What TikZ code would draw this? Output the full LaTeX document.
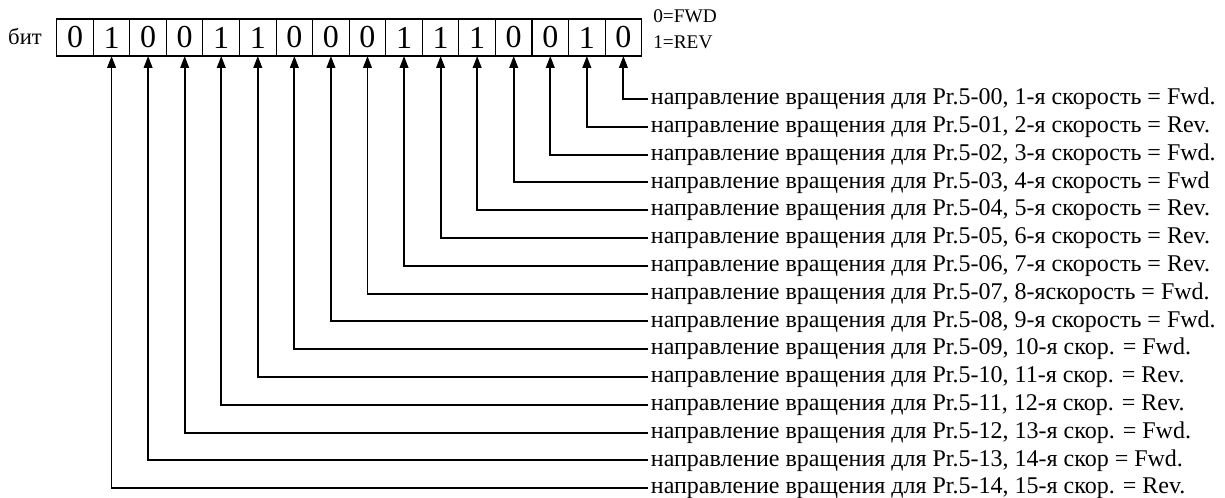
\documentclass[tikz,border=0pt]{standalone}
\usepackage{fontspec}
\setmainfont{Liberation Serif}
\usetikzlibrary{arrows.meta,positioning}

\begin{document}
\begin{tikzpicture}[
  x=0.75pt, y=-0.75pt,
  bitbox/.style={draw,line width=0.8pt,minimum width=27.42pt,minimum height=27.75pt,
    inner sep=0pt,outer sep=0pt,font=\fontsize{24}{24}\selectfont},
  desc/.style={anchor=west,inner sep=2pt,font=\fontsize{18}{20}\selectfont},
  legend/.style={anchor=west,inner sep=0pt,font=\fontsize{14.5}{14.5}\selectfont},
  pointer/.style={-{Triangle[length=9pt,width=6.5pt]},line width=1.4pt},
]
  \useasboundingbox (0,0) rectangle (1225,498);

  % Register bits (bit 15 on the left)
  \node[anchor=center,font=\fontsize{17}{17}\selectfont] (bitlbl) at (25,37) {бит};
  \node[bitbox] (b15) at (75,37.5) {0};
  \node[bitbox,right=0pt of b15] (b14) {1};
  \node[bitbox,right=0pt of b14] (b13) {0};
  \node[bitbox,right=0pt of b13] (b12) {0};
  \node[bitbox,right=0pt of b12] (b11) {1};
  \node[bitbox,right=0pt of b11] (b10) {1};
  \node[bitbox,right=0pt of b10] (b9) {0};
  \node[bitbox,right=0pt of b9] (b8) {0};
  \node[bitbox,right=0pt of b8] (b7) {0};
  \node[bitbox,right=0pt of b7] (b6) {1};
  \node[bitbox,right=0pt of b6] (b5) {1};
  \node[bitbox,right=0pt of b5] (b4) {1};
  \node[bitbox,right=0pt of b4] (b3) {0};
  \node[bitbox,right=0pt of b3] (b2) {0};
  \node[bitbox,right=0pt of b2] (b1) {1};
  \node[bitbox,right=0pt of b1] (b0) {0};

  % Legend
  \node[legend] (fwd) at (653,16) {0=FWD};
  \node[legend] (rev) at (653,42) {1=REV};

  % Descriptions of the bits
  \node[desc] (l0) at (648,99) {направление вращения для Pr.5-00, 1-я скорость = Fwd.};
  \node[desc] (l1) at (648,126.8) {направление вращения для Pr.5-01, 2-я скорость = Rev.};
  \node[desc] (l2) at (648,154.6) {направление вращения для Pr.5-02, 3-я скорость = Fwd.};
  \node[desc] (l3) at (648,182.4) {направление вращения для Pr.5-03, 4-я скорость = Fwd};
  \node[desc] (l4) at (648,210.2) {направление вращения для Pr.5-04, 5-я скорость = Rev.};
  \node[desc] (l5) at (648,238) {направление вращения для Pr.5-05, 6-я скорость = Rev.};
  \node[desc] (l6) at (648,265.8) {направление вращения для Pr.5-06, 7-я скорость = Rev.};
  \node[desc] (l7) at (648,293.6) {направление вращения для Pr.5-07, 8-яскорость = Fwd.};
  \node[desc] (l8) at (648,321.4) {направление вращения для Pr.5-08, 9-я скорость = Fwd.};
  \node[desc] (l9) at (648,349.2) {направление вращения для Pr.5-09, 10-я скор. = Fwd.};
  \node[desc] (l10) at (648,377) {направление вращения для Pr.5-10, 11-я скор. = Rev.};
  \node[desc] (l11) at (648,404.8) {направление вращения для Pr.5-11, 12-я скор. = Rev.};
  \node[desc] (l12) at (648,432.6) {направление вращения для Pr.5-12, 13-я скор. = Fwd.};
  \node[desc] (l13) at (648,460.4) {направление вращения для Pr.5-13, 14-я скор = Fwd.};
  \node[desc] (l14) at (648,488.2) {направление вращения для Pr.5-14, 15-я скор. = Rev.};

  % Pointers from descriptions up to the bits
  \draw[pointer] (l0.west) -| (b0.south);
  \draw[pointer] (l1.west) -| (b1.south);
  \draw[pointer] (l2.west) -| (b2.south);
  \draw[pointer] (l3.west) -| (b3.south);
  \draw[pointer] (l4.west) -| (b4.south);
  \draw[pointer] (l5.west) -| (b5.south);
  \draw[pointer] (l6.west) -| (b6.south);
  \draw[pointer] (l7.west) -| (b7.south);
  \draw[pointer] (l8.west) -| (b8.south);
  \draw[pointer] (l9.west) -| (b9.south);
  \draw[pointer] (l10.west) -| (b10.south);
  \draw[pointer] (l11.west) -| (b11.south);
  \draw[pointer] (l12.west) -| (b12.south);
  \draw[pointer] (l13.west) -| (b13.south);
  \draw[pointer] (l14.west) -| (b14.south);
\end{tikzpicture}
\end{document}
